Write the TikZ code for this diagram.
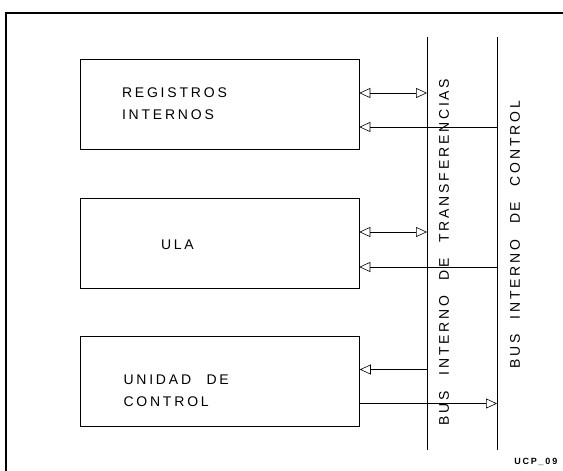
\documentclass[tikz,border=0pt]{standalone}
\usepackage{fontspec}
\setmainfont{Liberation Sans}
\newfontfamily\plotfont[LetterSpace=20,WordSpace=2.3]{Liberation Sans}
\usetikzlibrary{arrows.meta}

\begin{document}
\begin{tikzpicture}[x=1pt,y=-1pt,line width=0.6pt,
  bloque/.style={draw,minimum width=279pt,minimum height=90pt,inner sep=0pt},
  rotulo/.style={font=\plotfont\fontsize{14}{22}\selectfont,inner sep=0pt,align=left},
  flecha/.style={-{Triangle[open,length=11pt,width=10pt]}},
  dobleflecha/.style={{Triangle[open,length=11pt,width=10pt]}-{Triangle[open,length=11pt,width=10pt]}}]
  \useasboundingbox (0,0) rectangle (563,471);
  % marco
  \draw[line width=1.4pt] (6,471) -- (6,13) -- (563,13);
  % buses internos
  \coordinate (tbtop) at (427,37);
  \coordinate (tbbot) at (427,450);
  \coordinate (cbtop) at (497,37);
  \coordinate (cbbot) at (497,450);
  \draw (tbtop) -- (tbbot);
  \draw (cbtop) -- (cbbot);
  \node[rotulo,rotate=90] (tblbl) at (444,252) {BUS INTERNO DE TRANSFERENCIAS};
  \node[rotulo,rotate=90] (cblbl) at (515,235) {BUS INTERNO DE CONTROL};
  % bloques
  \node[bloque] (reg) at (219.5,104) {};
  \node[bloque] (ula) at (219.5,243) {};
  \node[bloque] (uc) at (220,381.5) {};
  \node[rotulo,anchor=west] (reglbl) at ([xshift=42pt]reg.west) {REGISTROS\\INTERNOS};
  \node[rotulo,anchor=west] (ulalbl) at ([xshift=81pt,yshift=-2pt]ula.west) {ULA};
  \node[rotulo,anchor=west] (uclbl) at ([xshift=43pt,yshift=-9pt]uc.west) {UNIDAD DE\\CONTROL};
  % conexiones
  \coordinate (r1) at ([yshift=11pt]reg.east);
  \coordinate (r2) at ([yshift=-23pt]reg.east);
  \coordinate (a1) at ([yshift=11pt]ula.east);
  \coordinate (a2) at ([yshift=-24pt]ula.east);
  \coordinate (u1) at ([yshift=12pt]uc.east);
  \coordinate (u2) at ([yshift=-22pt]uc.east);
  \draw[dobleflecha] (r1) -- (r1 -| tbtop);
  \draw[flecha] (r2 -| cbtop) -- (r2);
  \draw[dobleflecha] (a1) -- (a1 -| tbtop);
  \draw[flecha] (a2 -| cbtop) -- (a2);
  \draw[flecha] (u1 -| tbtop) -- (u1);
  \draw[flecha] (u2) -- (u2 -| cbtop);
  \node[font=\plotfont\fontsize{9}{10}\selectfont\bfseries,anchor=west,inner sep=0pt] (ref) at (514,462) {UCP\_09};
\end{tikzpicture}
\end{document}
